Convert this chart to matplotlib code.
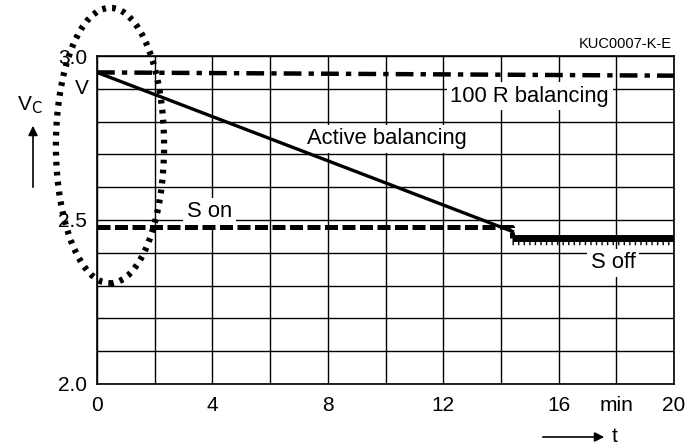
import matplotlib
matplotlib.use("Agg")
import matplotlib.pyplot as plt
from matplotlib.patches import Ellipse
import numpy as np

plt.rcParams['font.family'] = ['Liberation Sans', 'DejaVu Sans']

# time axis (min) and cell voltage curves (V)
t_resistor = [0.0, 20.0]
v_resistor = [2.95, 2.94]

t_active = [0.0, 14.4]
v_active = [2.95, 2.465]

t_son = [0.0, 14.4, 14.4]
v_son = [2.48, 2.48, 2.445]

t_soff = [14.4, 20.0]
v_soff = [2.445, 2.445]

x_ticks = [0, 4, 8, 12, 16, 18, 20]
x_labels = ['0', '4', '8', '12', '16', 'min', '20']
y_ticks = [2.0, 2.5, 3.0]
y_labels = ['2.0', '2.5', '3.0']

fig = plt.figure(figsize=(6.98, 4.47), dpi=100)
ax = fig.add_axes([0.139, 0.141, 0.8266, 0.7337])
ax.set_xlim(0, 20)
ax.set_ylim(2.0, 3.0)

# grid: 2 min by 0.1 V
for gx in np.arange(0, 20.01, 2):
    ax.axvline(gx, color='black', lw=1.0, zorder=1)
for gy in np.arange(2.0, 3.001, 0.1):
    ax.axhline(gy, color='black', lw=1.0, zorder=1)
for s in ax.spines.values():
    s.set_linewidth(1.2)

ax.set_xticks(x_ticks)
ax.set_xticklabels(x_labels, fontsize=15)
ax.set_yticks(y_ticks)
ax.set_yticklabels(y_labels, fontsize=15)
ax.tick_params(axis='both', length=0)
ax.tick_params(axis='x', pad=9)
ax.tick_params(axis='y', pad=7)

ax.plot(t_resistor, v_resistor, color='black', lw=3.2,
        linestyle=(0, (4, 1.6, 1.2, 1.6)), dash_capstyle='butt', zorder=3)
ax.plot(t_active, v_active, color='black', lw=2.4, zorder=3)
ax.plot(t_son, v_son, color='black', lw=3.6,
        linestyle=(0, (2.6, 0.9)), dash_capstyle='butt', zorder=3)
ax.plot(t_soff, v_soff, color='black', lw=5.0, solid_capstyle='butt', zorder=3)
ax.plot(t_soff, [v - 0.016 for v in v_soff], color='black', lw=2.5,
        linestyle=(0, (0.4, 1.2)), dash_capstyle='butt', zorder=3)

box = dict(facecolor='white', edgecolor='none', pad=2.5)
ax.text(15.0, 2.878, '100 R balancing', fontsize=15.8, ha='center', va='center', bbox=box, zorder=2)
ax.text(10.05, 2.748, 'Active balancing', fontsize=15.8, ha='center', va='center', bbox=box, zorder=2)
ax.text(3.9, 2.525, 'S on', fontsize=15.8, ha='center', va='center', bbox=box, zorder=2)
ax.text(17.9, 2.37, 'S off', fontsize=15.8, ha='center', va='center', bbox=box, zorder=2)

# unit label under 3.0
ax.text(-0.3, 2.9, 'V', fontsize=15, ha='right', va='center', clip_on=False)

# axis captions with arrows
fig.text(30 / 698, 1 - 105 / 447, r'V$_\mathrm{C}$', fontsize=15, ha='center', va='center')
ax.annotate('', xy=(33 / 698, 1 - 123 / 447), xytext=(33 / 698, 1 - 190 / 447),
            xycoords='figure fraction', textcoords='figure fraction',
            arrowprops=dict(arrowstyle='-|>', color='black', lw=1.2, mutation_scale=14))
ax.annotate('', xy=(607 / 698, 1 - 437 / 447), xytext=(540 / 698, 1 - 437 / 447),
            xycoords='figure fraction', textcoords='figure fraction',
            arrowprops=dict(arrowstyle='-|>', color='black', lw=1.2, mutation_scale=14))
fig.text(612 / 698, 1 - 437 / 447, 't', fontsize=15, ha='left', va='center')

fig.text(672 / 698, 1 - 44 / 447, 'KUC0007-K-E', fontsize=10.5, ha='right', va='center')

# dotted ellipse highlighting the start region
ell = Ellipse((0.45, 2.727), width=3.75, height=0.84, fill=False, edgecolor='black',
              lw=4.5, linestyle=(0, (0.6, 1.0)), clip_on=False, zorder=4)
ax.add_patch(ell)

fig.savefig('out.png', dpi=100)
